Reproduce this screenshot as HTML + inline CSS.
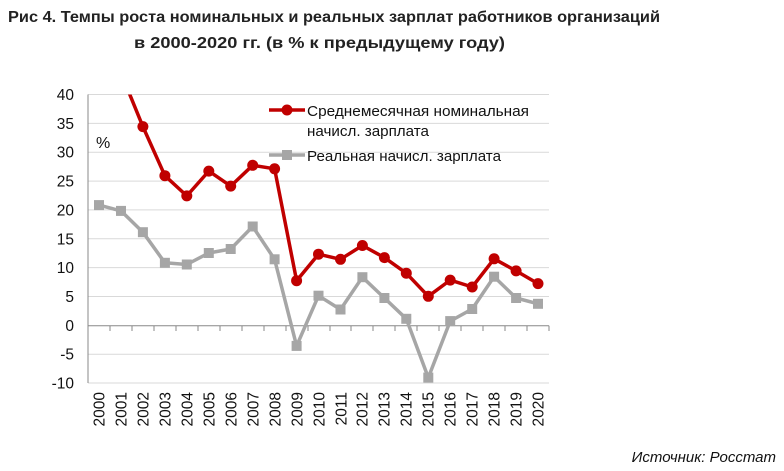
<!DOCTYPE html>
<html><head><meta charset="utf-8"><style>
html,body{margin:0;padding:0;background:#fff;}
svg{display:block;font-family:"Liberation Sans","DejaVu Sans",sans-serif;}
</style></head><body>
<svg width="784" height="471" viewBox="0 0 784 471" xmlns="http://www.w3.org/2000/svg">
<text x="8" y="22" font-size="16" font-weight="bold" fill="#222" textLength="652" lengthAdjust="spacingAndGlyphs">Рис 4. Темпы роста номинальных и реальных зарплат работников организаций</text>
<text x="134" y="48" font-size="16" font-weight="bold" fill="#222" textLength="371" lengthAdjust="spacingAndGlyphs">в 2000-2020 гг. (в % к предыдущему году)</text>
<g stroke="#d9d9d9" stroke-width="1">
<line x1="88" x2="549" y1="94.5" y2="94.5"/><line x1="88" x2="549" y1="123.4" y2="123.4"/>
<line x1="88" x2="549" y1="152.2" y2="152.2"/><line x1="88" x2="549" y1="181.1" y2="181.1"/>
<line x1="88" x2="549" y1="209.9" y2="209.9"/><line x1="88" x2="549" y1="238.8" y2="238.8"/>
<line x1="88" x2="549" y1="267.6" y2="267.6"/><line x1="88" x2="549" y1="296.5" y2="296.5"/>
<line x1="88" x2="549" y1="354.2" y2="354.2"/><line x1="88" x2="549" y1="383" y2="383"/>
</g>
<g stroke="#888" stroke-width="1">
<line x1="88" y1="94.5" x2="88" y2="383"/>
<line x1="88" y1="325.7" x2="549" y2="325.7"/>
<line x1="110" y1="325.7" x2="110" y2="331"/><line x1="132" y1="325.7" x2="132" y2="331"/><line x1="154" y1="325.7" x2="154" y2="331"/><line x1="176" y1="325.7" x2="176" y2="331"/><line x1="198" y1="325.7" x2="198" y2="331"/><line x1="220" y1="325.7" x2="220" y2="331"/><line x1="242" y1="325.7" x2="242" y2="331"/><line x1="264" y1="325.7" x2="264" y2="331"/><line x1="286" y1="325.7" x2="286" y2="331"/><line x1="308" y1="325.7" x2="308" y2="331"/><line x1="330" y1="325.7" x2="330" y2="331"/><line x1="351" y1="325.7" x2="351" y2="331"/><line x1="373" y1="325.7" x2="373" y2="331"/><line x1="395" y1="325.7" x2="395" y2="331"/><line x1="417" y1="325.7" x2="417" y2="331"/><line x1="439" y1="325.7" x2="439" y2="331"/><line x1="461" y1="325.7" x2="461" y2="331"/><line x1="483" y1="325.7" x2="483" y2="331"/><line x1="505" y1="325.7" x2="505" y2="331"/><line x1="527" y1="325.7" x2="527" y2="331"/><line x1="549" y1="325.7" x2="549" y2="331"/>
</g>
<g font-size="15.5" fill="#111" text-anchor="end">
<text x="74" y="100">40</text><text x="74" y="128.9">35</text><text x="74" y="157.7">30</text><text x="74" y="186.6">25</text><text x="74" y="215.4">20</text><text x="74" y="244.3">15</text><text x="74" y="273.1">10</text><text x="74" y="302">5</text><text x="74" y="331.2">0</text><text x="74" y="359.7">-5</text><text x="74" y="388.5">-10</text>
</g>
<text x="96" y="148" font-size="16" fill="#111">%</text>
<g font-size="15.5" fill="#111" text-anchor="end">
<text transform="translate(104.5,392) rotate(-90)">2000</text><text transform="translate(126.5,392) rotate(-90)">2001</text><text transform="translate(148.5,392) rotate(-90)">2002</text><text transform="translate(170.5,392) rotate(-90)">2003</text><text transform="translate(192.5,392) rotate(-90)">2004</text><text transform="translate(214.5,392) rotate(-90)">2005</text><text transform="translate(236.5,392) rotate(-90)">2006</text><text transform="translate(258.5,392) rotate(-90)">2007</text><text transform="translate(280.5,392) rotate(-90)">2008</text><text transform="translate(302.5,392) rotate(-90)">2009</text><text transform="translate(324.5,392) rotate(-90)">2010</text><text transform="translate(346.5,392) rotate(-90)">2011</text><text transform="translate(367.5,392) rotate(-90)">2012</text><text transform="translate(389.5,392) rotate(-90)">2013</text><text transform="translate(411.5,392) rotate(-90)">2014</text><text transform="translate(433.5,392) rotate(-90)">2015</text><text transform="translate(455.5,392) rotate(-90)">2016</text><text transform="translate(477.5,392) rotate(-90)">2017</text><text transform="translate(499.5,392) rotate(-90)">2018</text><text transform="translate(521.5,392) rotate(-90)">2019</text><text transform="translate(543.5,392) rotate(-90)">2020</text>
</g>
<polyline fill="none" stroke="#a6a6a6" stroke-width="3.5" stroke-linejoin="round" points="99,205.1 121,210.9 142.9,232.2 164.9,262.8 186.8,264.5 208.8,253 230.7,249 252.7,226.5 274.6,259.3 296.6,345.9 318.5,295.7 340.5,309.5 362.4,277.2 384.4,298 406.3,318.8 428.3,377.6 450.2,321.1 472.2,309 494.1,276.7 516.1,298 538,303.8"/>
<g fill="#a6a6a6">
<rect x="94" y="200.1" width="10" height="10"/><rect x="116" y="205.9" width="10" height="10"/><rect x="137.9" y="227.2" width="10" height="10"/><rect x="159.9" y="257.8" width="10" height="10"/><rect x="181.8" y="259.5" width="10" height="10"/><rect x="203.8" y="248" width="10" height="10"/><rect x="225.7" y="244" width="10" height="10"/><rect x="247.7" y="221.5" width="10" height="10"/><rect x="269.6" y="254.3" width="10" height="10"/><rect x="291.6" y="340.9" width="10" height="10"/><rect x="313.5" y="290.7" width="10" height="10"/><rect x="335.5" y="304.5" width="10" height="10"/><rect x="357.4" y="272.2" width="10" height="10"/><rect x="379.4" y="293" width="10" height="10"/><rect x="401.3" y="313.8" width="10" height="10"/><rect x="423.3" y="372.6" width="10" height="10"/><rect x="445.2" y="316.1" width="10" height="10"/><rect x="467.2" y="304" width="10" height="10"/><rect x="489.1" y="271.7" width="10" height="10"/><rect x="511.1" y="293" width="10" height="10"/><rect x="533" y="298.8" width="10" height="10"/>
</g>
<clipPath id="c"><rect x="88" y="94.5" width="470" height="300"/></clipPath>
<polyline clip-path="url(#c)" fill="none" stroke="#c00000" stroke-width="3.5" stroke-linejoin="round" points="99,54.5 121,73 142.9,126.6 164.9,175.7 186.8,195.9 208.8,171.1 230.7,186.1 252.7,165.3 274.6,168.8 296.6,280.7 318.5,254.2 340.5,259.3 362.4,245.5 384.4,257.6 406.3,273.2 428.3,296.3 450.2,280.1 472.2,287 494.1,258.8 516.1,270.9 538,283.6"/>
<g fill="#c00000">
<circle cx="142.9" cy="126.6" r="5.5"/><circle cx="164.9" cy="175.7" r="5.5"/><circle cx="186.8" cy="195.9" r="5.5"/><circle cx="208.8" cy="171.1" r="5.5"/><circle cx="230.7" cy="186.1" r="5.5"/><circle cx="252.7" cy="165.3" r="5.5"/><circle cx="274.6" cy="168.8" r="5.5"/><circle cx="296.6" cy="280.7" r="5.5"/><circle cx="318.5" cy="254.2" r="5.5"/><circle cx="340.5" cy="259.3" r="5.5"/><circle cx="362.4" cy="245.5" r="5.5"/><circle cx="384.4" cy="257.6" r="5.5"/><circle cx="406.3" cy="273.2" r="5.5"/><circle cx="428.3" cy="296.3" r="5.5"/><circle cx="450.2" cy="280.1" r="5.5"/><circle cx="472.2" cy="287" r="5.5"/><circle cx="494.1" cy="258.8" r="5.5"/><circle cx="516.1" cy="270.9" r="5.5"/><circle cx="538" cy="283.6" r="5.5"/>
</g>
<line x1="269" y1="110" x2="305" y2="110" stroke="#c00000" stroke-width="3.5"/>
<circle cx="287" cy="110" r="5.5" fill="#c00000"/>
<line x1="269" y1="155" x2="305" y2="155" stroke="#a6a6a6" stroke-width="3.5"/>
<rect x="282" y="150" width="10" height="10" fill="#a6a6a6"/>
<g font-size="15" fill="#111">
<text x="307" y="116" textLength="222" lengthAdjust="spacingAndGlyphs">Среднемесячная номинальная</text>
<text x="307" y="136" textLength="122" lengthAdjust="spacingAndGlyphs">начисл. зарплата</text>
<text x="307" y="161" textLength="194" lengthAdjust="spacingAndGlyphs">Реальная начисл. зарплата</text>
</g>
<text x="776" y="462" font-size="15" font-style="italic" fill="#111" text-anchor="end">Источник: Росстат</text>
</svg>
</body></html>
